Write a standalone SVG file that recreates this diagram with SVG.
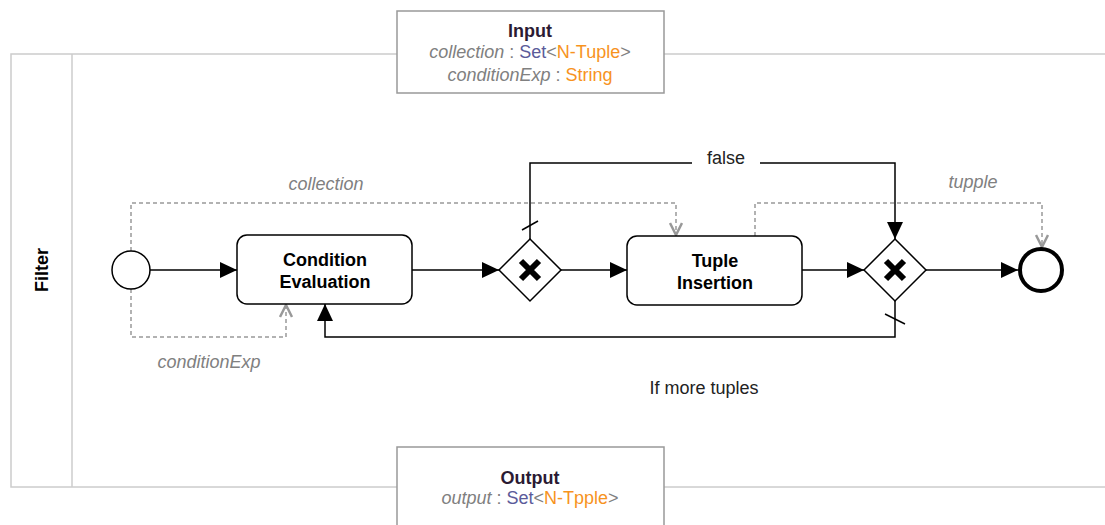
<svg xmlns="http://www.w3.org/2000/svg" width="1105" height="525" viewBox="0 0 1105 525">
<style>
text{font-family:"Liberation Sans",Arial,sans-serif;}
.pool{fill:none;stroke:#cccccc;stroke-width:1.5;}
.io{fill:#fff;stroke:#999;stroke-width:1.5;}
.task{fill:#fff;stroke:#000;stroke-width:1.5;}
.tl{font-size:18px;font-weight:bold;text-anchor:middle;fill:#000;}
.flow{fill:none;stroke:#000;stroke-width:1.5;}
.data{fill:none;stroke:#999;stroke-width:1.5;stroke-dasharray:4,3;}
.dl{font-size:18px;font-style:italic;fill:#808080;text-anchor:middle;}
.lbl{font-size:18px;fill:#222;text-anchor:middle;}
.g{fill:#808080;}
.b{fill:#5b5b9a;}
.o{fill:#f7931e;}
.it{font-style:italic;}
</style>
<defs>
<marker id="arr" viewBox="0 0 17 16" refX="17" refY="8" markerWidth="17" markerHeight="16" markerUnits="userSpaceOnUse" orient="auto">
<path d="M0,0 L17,8 L0,16 Z" fill="#000"/>
</marker>
<marker id="oarr" viewBox="0 0 14 14" refX="13" refY="7" markerWidth="14" markerHeight="14" markerUnits="userSpaceOnUse" orient="auto">
<path d="M1,1 L13,7 L1,13" fill="none" stroke="#999" stroke-width="2.5"/>
</marker>
</defs>
<g id="pool">
<rect class="pool" x="11" y="54" width="1110" height="433"/>
<line class="pool" x1="72" y1="54" x2="72" y2="487"/>
<text x="48" y="270" transform="rotate(-90 48 270)" style="font-size:18px;font-weight:bold;text-anchor:middle;">Filter</text>
</g>
<g id="input">
<rect class="io" x="397" y="11" width="267" height="82"/>
<text x="530" y="37" style="font-size:18px;font-weight:bold;text-anchor:middle;fill:#2b1a33;">Input</text>
<text x="530" y="58" style="font-size:18px;text-anchor:middle;"><tspan class="g it">collection</tspan><tspan class="g"> : </tspan><tspan class="b">Set</tspan><tspan class="g">&lt;</tspan><tspan class="o">N-Tuple</tspan><tspan class="g">&gt;</tspan></text>
<text x="530" y="81" style="font-size:18px;text-anchor:middle;"><tspan class="g it">conditionExp</tspan><tspan class="g"> : </tspan><tspan class="o">String</tspan></text>
</g>
<g id="output">
<rect class="io" x="397" y="447" width="267" height="90"/>
<text x="530" y="484" style="font-size:18px;font-weight:bold;text-anchor:middle;fill:#2b1a33;">Output</text>
<text x="530" y="504" style="font-size:18px;text-anchor:middle;"><tspan class="g it">output</tspan><tspan class="g"> : </tspan><tspan class="b">Set</tspan><tspan class="g">&lt;</tspan><tspan class="o">N-Tpple</tspan><tspan class="g">&gt;</tspan></text>
</g>
<g id="connectors">
<path class="flow" d="M150,270 L237,270" marker-end="url(#arr)"/>
<path class="flow" d="M412,270 L499,270" marker-end="url(#arr)"/>
<path class="flow" d="M561,270 L627,270" marker-end="url(#arr)"/>
<path class="flow" d="M802,270 L864,270" marker-end="url(#arr)"/>
<path class="flow" d="M926,270 L1018,270" marker-end="url(#arr)"/>
<path class="flow" d="M530,239 L530,163 L895,163 L895,239" marker-end="url(#arr)"/>
<line class="flow" x1="522" y1="230" x2="538" y2="221"/>
<path class="flow" d="M895,301 L895,337 L325,337 L325,304" marker-end="url(#arr)"/>
<line class="flow" x1="885" y1="314" x2="905" y2="324"/>
<rect x="692" y="150" width="68" height="24" fill="#fff"/>
<text class="lbl" x="726" y="164">false</text>
<text class="lbl" x="704" y="394">If more tuples</text>
<path class="data" d="M131,251 L131,203 L676,203 L676,235" marker-end="url(#oarr)"/>
<path class="data" d="M131,289 L131,337 L286,337 L286,305" marker-end="url(#oarr)"/>
<path class="data" d="M755,236 L755,203 L1042,203 L1042,247" marker-end="url(#oarr)"/>
<text class="dl" x="326" y="190">collection</text>
<text class="dl" x="209" y="368">conditionExp</text>
<text class="dl" x="973" y="188">tupple</text>
</g>
<g id="start">
<circle cx="131" cy="270" r="19" fill="#fff" stroke="#000" stroke-width="1.5"/>
</g>
<g id="condition-evaluation">
<rect class="task" x="237" y="235" width="175" height="69" rx="10"/>
<text class="tl" x="325" y="266">Condition</text>
<text class="tl" x="325" y="288">Evaluation</text>
</g>
<g id="gateway1">
<path d="M530,239 L561,270 L530,301 L499,270 Z" fill="#fff" stroke="#000" stroke-width="1.5"/>
<path d="M521,261 L539,279 M539,261 L521,279" stroke="#000" stroke-width="6"/>
</g>
<g id="tuple-insertion">
<rect class="task" x="627" y="236" width="175" height="69" rx="10"/>
<text class="tl" x="715" y="267">Tuple</text>
<text class="tl" x="715" y="289">Insertion</text>
</g>
<g id="gateway2">
<path d="M895,239 L926,270 L895,301 L864,270 Z" fill="#fff" stroke="#000" stroke-width="1.5"/>
<path d="M886,261 L904,279 M904,261 L886,279" stroke="#000" stroke-width="6"/>
</g>
<g id="end">
<circle cx="1041" cy="270" r="21" fill="#fff" stroke="#000" stroke-width="4"/>
</g>
</svg>
